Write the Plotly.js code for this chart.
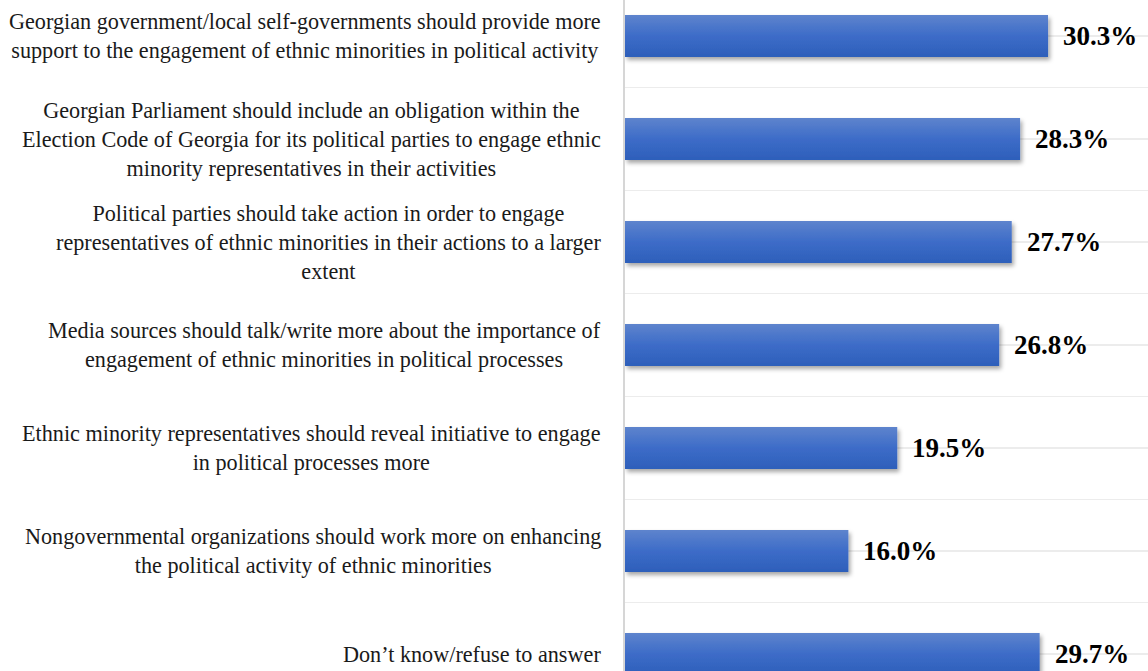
<!DOCTYPE html>
<html>
<head>
<meta charset="utf-8">
<script src="https://cdn.plot.ly/plotly-3.0.1.min.js"></script>
<style>html,body{margin:0;padding:0;background:#fff;}#chart{width:1148px;height:671px;}</style>
</head>
<body>
<div id="chart"></div>
<script>
const categories = [
  "Georgian government/local self-governments should provide more<br>support to the engagement of ethnic minorities in political activity",
  "Georgian Parliament should include an obligation within the<br>Election Code of Georgia for its political parties to engage ethnic<br>minority representatives in their activities",
  "Political parties should take action in order to engage<br>representatives of ethnic minorities in their actions to a larger<br>extent",
  "Media sources should talk/write more about the importance of<br>engagement of ethnic minorities in political processes",
  "Ethnic minority representatives should reveal initiative to engage<br>in political processes more",
  "Nongovernmental organizations should work more on enhancing<br>the political activity of ethnic minorities",
  "Don’t know/refuse to answer"
];
const values = [30.3, 28.3, 27.7, 26.8, 19.5, 16.0, 29.7];

const idx = categories.map((c, i) => i);
const serif = "Liberation Serif, Times New Roman, serif";

const trace = {
  type: 'bar',
  orientation: 'h',
  x: values,
  y: idx,
  marker: {color: '#3f6cc6', line: {width: 0}},
  hoverinfo: 'skip'
};

const annotations = [];
categories.forEach((c, i) => {
  annotations.push({
    xref: 'paper', yref: 'y', x: 0, y: i,
    xanchor: 'right', yanchor: 'middle', xshift: -22,
    align: 'center', showarrow: false, text: c,
    font: {family: serif, size: 22.2, color: '#1a1a1a'}
  });
});
values.forEach((v, i) => {
  annotations.push({
    xref: 'x', yref: 'y', x: v, y: i,
    xanchor: 'left', yanchor: 'middle', xshift: 13,
    showarrow: false, text: v.toFixed(1) + '%',
    font: {family: serif, size: 27, color: '#000', weight: 'bold'}
  });
});

const layout = {
  width: 1148, height: 671,
  margin: {l: 625, r: 0, t: 0, b: 0},
  paper_bgcolor: '#fff', plot_bgcolor: '#fff',
  showlegend: false,
  bargap: 0.59,
  xaxis: {range: [0, 37.46], showgrid: false, zeroline: false, showticklabels: false, fixedrange: true},
  yaxis: {
    range: [6.165, -0.3495], autorange: false,
    tickmode: 'linear', tick0: 0, dtick: 0.5,
    showticklabels: false, ticks: '',
    showgrid: true, gridcolor: '#ececec', gridwidth: 1.5,
    zeroline: false,
    showline: true, linecolor: '#d6d6d6', linewidth: 2
  },
  annotations: annotations
};

Plotly.newPlot('chart', [trace], layout, {staticPlot: true, displayModeBar: false}).then(gd => {
  const svg = gd.querySelector('svg.main-svg');
  const ns = 'http://www.w3.org/2000/svg';
  let defs = svg.querySelector('defs');
  if (!defs) { defs = document.createElementNS(ns, 'defs'); svg.insertBefore(defs, svg.firstChild); }
  defs.insertAdjacentHTML('beforeend',
    '<linearGradient id="barGrad" x1="0" y1="0" x2="0" y2="1">' +
    '<stop offset="0" stop-color="#5e84cd"/><stop offset="0.5" stop-color="#3d6cc8"/><stop offset="1" stop-color="#2d5fba"/>' +
    '</linearGradient>' +
    '<filter id="barShadow" x="-5%" y="-20%" width="115%" height="160%">' +
    '<feDropShadow dx="2" dy="3" stdDeviation="2" flood-color="#000" flood-opacity="0.35"/>' +
    '</filter>');
  gd.querySelectorAll('.bars .point path').forEach(p => {
    p.style.fill = 'url(#barGrad)';
    p.setAttribute('filter', 'url(#barShadow)');
  });
});
</script>
</body>
</html>
